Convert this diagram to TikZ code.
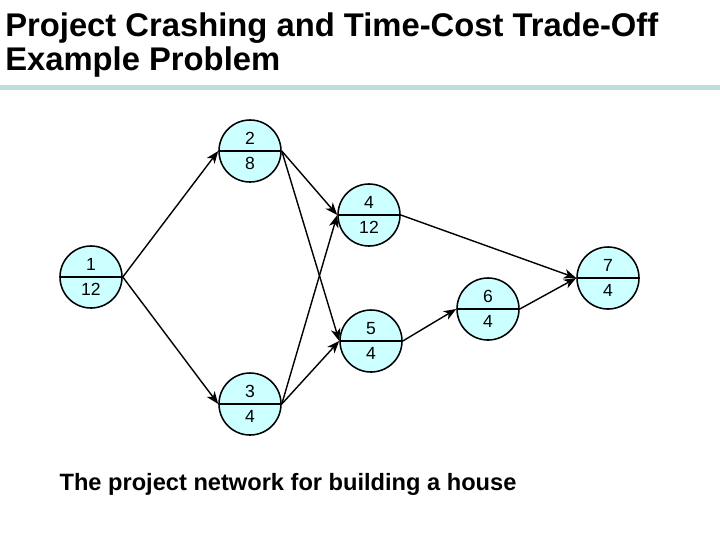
\documentclass[tikz,border=0pt]{standalone}
\usepackage{fontspec}
\setmainfont{Liberation Sans}
\usepackage{tikz}
\usetikzlibrary{arrows.meta, shapes.multipart}
\definecolor{netFill}{HTML}{CCFFFF}
\definecolor{netRule}{HTML}{BEDEDE}
\definecolor{netInk}{HTML}{000000}

\begin{document}
\begin{tikzpicture}[
  x=0.025cm, y=-0.025cm,
  >={Stealth[length=3.1mm, width=2.4mm, inset=0.9mm]},
  evt/.style={circle split, draw=netInk, line width=1.1pt, fill=netFill,
              minimum size=1.55cm, inner ysep=3.8pt,
              font=\fontsize{12.5pt}{14pt}\selectfont},
  flow/.style={->, draw=netInk, line width=1pt},
  ttl/.style={font=\fontsize{23.3pt}{24.2pt}\selectfont\bfseries, align=left,
              anchor=north west, inner sep=0pt},
  captxt/.style={font=\fontsize{16.8pt}{19pt}\selectfont\bfseries, inner sep=0pt},
]
\useasboundingbox (0,0) rectangle (720,540);

% ======================= heading ========================================
\node[ttl] (title) at (5,12)
  {Project Crashing and Time-Cost Trade-Off\\Example Problem};
\fill[netRule] (0,85) rectangle (720,90);

% ======================= events =========================================
\foreach \i/\x/\y/\t in {1/91/277/12, 2/250/151/8, 3/250/404/4, 4/369/215/12,
                         5/371/341/4, 6/488/309/4, 7/608/278/4} {
  \node[evt] (n\i) at (\x,\y) {\i \nodepart{lower} \t};
}

% ======================= activities =====================================
\foreach \a/\b in {1/2, 1/3, 2/4, 2/5, 3/4, 3/5, 4/7, 5/6, 6/7} {
  \draw[flow] (n\a.east) -- (n\b.west);
}

\node[captxt] (caption) at (288,484) {The project network for building a house};
\end{tikzpicture}
\end{document}
